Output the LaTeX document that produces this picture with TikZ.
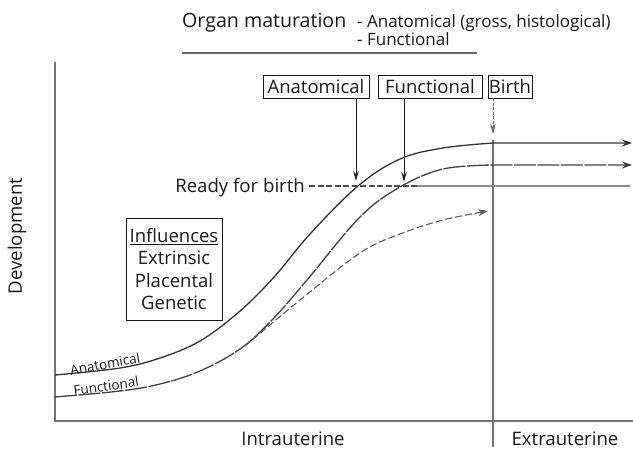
\documentclass[tikz,border=0pt]{standalone}
\usepackage{fontspec}
\setmainfont{Open Sans}
\usetikzlibrary{arrows.meta}
\begin{document}
\begin{tikzpicture}[x=1pt,y=-1pt,
  txt/.style={inner sep=0pt, text=black!90, font=\fontsize{18.6}{22}\selectfont},
  small/.style={inner sep=0pt, text=black!90, font=\fontsize{17}{20}\selectfont},
  tiny/.style={inner sep=0pt, text=black!90, font=\fontsize{13.5}{15}\selectfont},
  tagbox/.style={draw=black!90, line width=0.9pt, inner sep=0pt, minimum height=23pt, text=black!90, font=\fontsize{18.5}{20}\selectfont},
  curve/.style={line width=1.3pt, draw=black!80},
  axis/.style={line width=1.5pt, draw=black!55},
  tip/.style={-{Stealth[length=10pt,width=7pt]}},
  vtip/.style={-{Stealth[length=10pt,width=5.5pt]}}
]
\useasboundingbox (0,0) rectangle (633,451);

% axes
\coordinate (yTop) at (55,62);
\coordinate (orig) at (55,421);
\coordinate (xEnd) at (633,421);
\draw[axis] (yTop) -- (orig) -- (xEnd);

% birth line
\coordinate (bTop) at (493,140);
\coordinate (bBot) at (493,447);
\draw[axis] (bTop) -- (bBot);

% titles
\node[txt, anchor=base west, font=\fontsize{19.6}{22}\selectfont] (organ) at (182,27) {Organ maturation};
\node[small, anchor=base west] (om1) at (357,27) {- Anatomical (gross, histological)};
\node[small, anchor=base west] (om2) at (357,45) {- Functional};
\coordinate (barL) at (182,53);
\coordinate (barR) at (477,53);
\draw[line width=2pt, draw=black!60] (barL) -- (barR);

% boxes
\node[tagbox, minimum width=106pt] (anat) at (316,86.5) {Anatomical};
\node[tagbox, minimum width=104pt] (func) at (430,86.5) {Functional};
\node[tagbox, minimum width=44pt] (birth) at (510,86.5) {Birth};

% arrows from boxes
\coordinate (aTip) at (356,181);
\coordinate (fTip) at (404,182);
\coordinate (bTip) at (493,134);
\draw[line width=0.9pt, draw=black!85, vtip] (anat.south -| aTip) -- (aTip);
\draw[line width=0.9pt, draw=black!85, vtip] (func.south -| fTip) -- (fTip);
\draw[line width=0.9pt, draw=black!60, dash pattern=on 3pt off 1.5pt, vtip] (birth.south -| bTip) -- (bTip);

% ready for birth
\node[txt, anchor=base east] (ready) at (305,192) {Ready for birth};
\coordinate (rMid) at (417,186);
\coordinate (rEnd) at (630,186);
\draw[line width=1.1pt, draw=black!70, dash pattern=on 6pt off 2.5pt] (ready.east |- rMid) ++(4,0) -- (rMid);
\draw[line width=1.8pt, draw=black!45] (rMid) -- (rEnd);

% curves
\coordinate (aEnd) at (632,143);
\coordinate (fEnd) at (632,165);
\coordinate (gEnd) at (488,211);
\draw[curve, tip] plot[smooth, tension=0.6] coordinates {(55,375) (120,368) (160,358) (200,341) (240,311) (275,276) (310,234) (358,186) (400,159) (443,148) (493,143)} -- (aEnd);
\draw[curve, draw=black!75, dash pattern=on 22pt off 1.5pt, tip] plot[smooth, tension=0.6] coordinates {(55,397) (120,391) (160,384) (200,371) (240,349) (272,320) (307,280) (360,217) (400,187) (443,169) (493,165)} -- (fEnd);
\draw[curve, line width=1.1pt, draw=black!65, dash pattern=on 7pt off 3pt, tip] plot[smooth, tension=0.6] coordinates {(245,346) (300,300) (360,253) (400,234) (443,220) (488,211)};

% curve labels
\node[tiny, rotate=10] (lblA) at (105,364) {Anatomical};
\node[tiny, rotate=8] (lblF) at (106,386) {Functional};

% influences
\node[draw=black!90, line width=0.9pt, minimum width=96pt, minimum height=102pt, inner sep=0pt, align=center, text=black!90, font=\fontsize{18.5}{22.5}\selectfont] (infl) at (174,269) {\underline{Influences}\\Extrinsic\\Placental\\Genetic};

% axis labels
\node[txt, rotate=90] (dev) at (17,236) {Development};
\node[txt] (intra) at (293,439) {Intrauterine};
\node[txt] (extra) at (565,439) {Extrauterine};
\end{tikzpicture}
\end{document}
